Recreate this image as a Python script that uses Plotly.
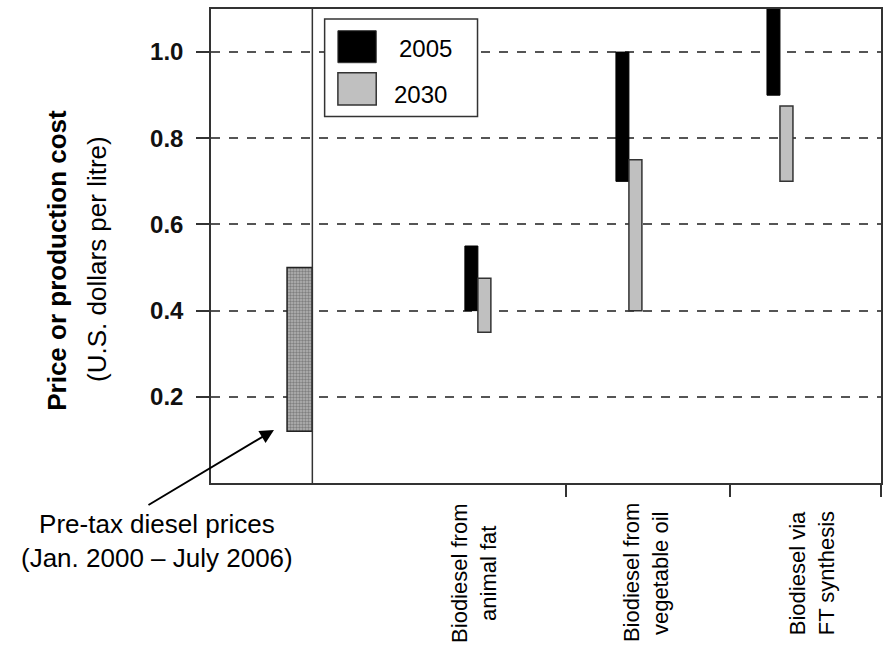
import plotly.graph_objects as go

# ---- data ----
categories = ["Biodiesel from<br>animal fat", "Biodiesel from<br>vegetable oil", "Biodiesel via<br>FT synthesis"]
cat_pos = [1, 2, 3]
low_2005 = [0.40, 0.70, 0.90]
high_2005 = [0.55, 1.00, 1.20]
low_2030 = [0.35, 0.40, 0.70]
high_2030 = [0.475, 0.75, 0.875]
diesel_low = 0.12
diesel_high = 0.50
diesel_pos = -0.18
y_ticks = [0.2, 0.4, 0.6, 0.8, 1.0]
y_ticktext = ["0.2", "0.4", "0.6", "0.8", "1.0"]
x_ticks = [1.581, 2.670, 3.668]
label_x = [0.97, 2.11, 3.21]
separator_x = -0.096

FONT = "Liberation Sans, Arial, sans-serif"
bw = 0.086

fig = go.Figure()
fig.add_trace(go.Bar(
    name="2005", x=cat_pos, y=[h - l for h, l in zip(high_2005, low_2005)], base=low_2005,
    width=bw, offset=-bw, marker=dict(color="black", line=dict(color="black", width=1)),
    showlegend=False))
fig.add_trace(go.Bar(
    name="2030", x=cat_pos, y=[h - l for h, l in zip(high_2030, low_2030)], base=low_2030,
    width=bw, offset=0, marker=dict(color="#c0c0c0", line=dict(color="#333333", width=1.5)),
    showlegend=False))
fig.add_trace(go.Bar(
    name="Pre-tax diesel prices", x=[diesel_pos], y=[diesel_high - diesel_low], base=[diesel_low],
    width=0.167,
    marker=dict(color="#a8a8a8", line=dict(color="#222222", width=1.5),
                pattern=dict(shape=".", fgcolor="#4a4a4a", bgcolor="#b4b4b4", size=3, solidity=0.5)),
    showlegend=False))

fig.update_layout(
    width=884, height=649,
    margin=dict(l=211, r=1, t=9, b=166),
    paper_bgcolor="white", plot_bgcolor="white",
    barmode="overlay",
    font=dict(family=FONT, color="black"),
    xaxis=dict(range=[-0.767, 3.669], tickvals=x_ticks, showticklabels=False,
               ticks="outside", ticklen=12, tickwidth=1.5, tickcolor="#333333",
               showgrid=False, zeroline=False,
               showline=True, linecolor="#333333", linewidth=1.5, mirror=True),
    yaxis=dict(range=[0, 1.1], tickvals=y_ticks, ticktext=["<b>%s</b>" % t for t in y_ticktext],
               tickfont=dict(size=24, family=FONT, color="#111111"),
               ticks="outside", ticklen=13, tickwidth=1.5, tickcolor="#333333",
               ticklabelstandoff=8,
               showgrid=True, gridcolor="#555555", gridwidth=1.5, griddash="dash",
               zeroline=False,
               showline=True, linecolor="#333333", linewidth=1.5, mirror=True),
)

# separator between diesel and biodiesel
fig.add_shape(type="line", xref="x", yref="paper", x0=separator_x, x1=separator_x, y0=0, y1=1,
              line=dict(color="#333333", width=1.5))

# custom legend
fig.add_shape(type="rect", xref="paper", yref="paper", x0=0.1696, x1=0.3978, y0=0.773, y1=0.979,
              fillcolor="white", line=dict(color="#333333", width=1.5), layer="above")
fig.add_shape(type="rect", xref="paper", yref="paper", x0=0.1894, x1=0.2466, y0=0.8867, y1=0.9542,
              fillcolor="black", line=dict(color="#333333", width=1), layer="above")
fig.add_shape(type="rect", xref="paper", yref="paper", x0=0.1894, x1=0.2466, y0=0.7975, y1=0.8656,
              fillcolor="#c0c0c0", line=dict(color="#333333", width=1.5), layer="above")
fig.add_annotation(xref="paper", yref="paper", x=0.32, y=0.9177, text="2005", showarrow=False,
                   font=dict(size=24, family=FONT), xanchor="center", yanchor="middle")
fig.add_annotation(xref="paper", yref="paper", x=0.313, y=0.8186, text="2030", showarrow=False,
                   font=dict(size=24, family=FONT), xanchor="center", yanchor="middle")

# category labels (each line centred on a common point, rotated)
for lx, cat in zip(label_x, categories):
    lines = cat.split("<br>")
    for i, line in enumerate(lines):
        fig.add_annotation(xref="x", yref="paper", x=lx, y=-0.19, text=line, textangle=-90,
                           showarrow=False, xanchor="center", yanchor="middle",
                           xshift=(i - (len(lines) - 1) / 2) * 29,
                           font=dict(size=22, family=FONT))

# y-axis title
fig.add_annotation(xref="paper", yref="paper", x=-0.229, y=0.470, text="<b>Price or production cost</b>",
                   textangle=-90, showarrow=False, xanchor="center", yanchor="middle",
                   font=dict(size=26, family=FONT))
fig.add_annotation(xref="paper", yref="paper", x=-0.170, y=0.473, text="(U.S. dollars per litre)",
                   textangle=-90, showarrow=False, xanchor="center", yanchor="middle",
                   font=dict(size=26, family=FONT))

# diesel annotation with arrow
fig.add_annotation(xref="paper", yref="paper", x=0.094, y=0.112, ax=-127, ay=76, text="",
                   showarrow=True, arrowhead=2, arrowsize=1.4, arrowwidth=2, arrowcolor="black",
                   standoff=0, startstandoff=0)
fig.add_annotation(xref="paper", yref="paper", x=-0.080, y=-0.122,
                   text="Pre-tax diesel prices<br>(Jan. 2000 – July 2006)", showarrow=False,
                   align="center", xanchor="center", yanchor="middle",
                   font=dict(size=26, family=FONT))

fig.write_html("out.html", config={"displayModeBar": False},
               post_script="document.body.style.margin='0';")
